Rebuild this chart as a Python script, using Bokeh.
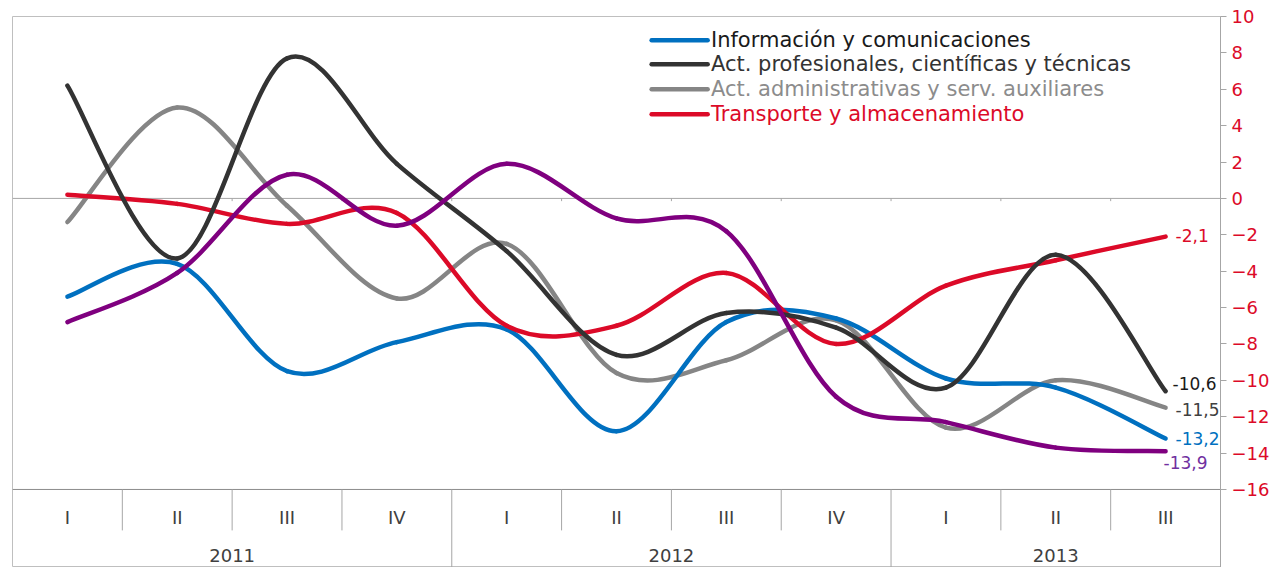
from bokeh.plotting import figure
from bokeh.models import Range1d, FixedTicker, Label
from bokeh.embed import file_html
from bokeh.resources import INLINE
from bokeh.core.properties import value

# ---------------- data ----------------
quarters = ["I", "II", "III", "IV", "I", "II", "III", "IV", "I", "II", "III"]
quarter_year = ["2011", "2011", "2011", "2011", "2012", "2012", "2012", "2012", "2013", "2013", "2013"]
years = ["2011", "2012", "2013"]

info_com = [-5.4, -3.6, -9.5, -7.9, -7.2, -12.8, -6.8, -6.6, -9.9, -10.4, -13.2]
act_prof = [6.2, -3.3, 7.7, 1.9, -2.9, -8.6, -6.3, -7.1, -10.4, -3.1, -10.6]
act_admin = [-1.3, 5.0, -0.4, -5.5, -2.5, -9.6, -8.9, -6.7, -12.6, -10.0, -11.5]
transporte = [0.2, -0.3, -1.4, -0.8, -7.0, -7.0, -4.1, -8.0, -4.8, -3.4, -2.1]
serie5 = [-6.8, -4.1, 1.3, -1.5, 1.9, -1.1, -1.8, -10.9, -12.3, -13.7, -13.9]

series_names = ["Información y comunicaciones",
                "Act. profesionales, científicas y técnicas",
                "Act. administrativas y serv. auxiliares",
                "Transporte y almacenamiento"]

y_ticks = list(range(-16, 11, 2))

# ---------------- styles ----------------
BLUE = "#0070C0"
BLACK = "#333333"
GRAY = "#858585"
RED = "#DC0A28"
PURPLE = "#7F007F"
FONT = "DejaVu Sans"

Y_MIN_DATA = -16
Y_BOTTOM = -20.29

p = figure(frame_width=1208, frame_height=551,
           x_range=Range1d(-0.5, len(quarters) - 0.5),
           y_range=Range1d(Y_BOTTOM, 10),
           x_axis_location=None, y_axis_location="right",
           output_backend="svg", toolbar_location=None,
           min_border_left=12, min_border_top=16, min_border_bottom=0,
           min_border_right=0)
p.grid.visible = False
p.outline_line_color = "#BFBFBF"
p.outline_line_width = 1
p.background_fill_color = "white"
p.border_fill_color = "white"

ax = p.yaxis[0]
ax.ticker = FixedTicker(ticks=y_ticks)
ax.major_label_text_color = RED
ax.major_label_text_font = FONT
ax.major_label_text_font_size = "18px"
ax.axis_line_color = "#A6A6A6"
ax.major_tick_line_color = "#A6A6A6"
ax.major_tick_out = 6
ax.major_tick_in = 0
ax.minor_tick_line_color = None
ax.major_label_standoff = 5

n = len(quarters)
xs = list(range(n))

# zero line and x-axis line
p.segment(x0=[-0.5, -0.5], y0=[0, Y_MIN_DATA], x1=[n - 0.5, n - 0.5], y1=[0, Y_MIN_DATA],
          line_color=["#A6A6A6", "#8C8C8C"], line_width=1)
# small ticks on zero line
bx = [i + 0.5 for i in range(n - 1)]
p.segment(x0=bx, y0=[0] * len(bx), x1=bx, y1=[-0.15] * len(bx), line_color="#A6A6A6", line_width=1)

# category separators
year_bounds = [i + 0.5 for i in range(n - 1) if quarter_year[i] != quarter_year[i + 1]]
q_bounds = [b for b in bx if b not in year_bounds]
p.segment(x0=q_bounds, y0=[Y_MIN_DATA] * len(q_bounds), x1=q_bounds, y1=[-18.25] * len(q_bounds),
          line_color="#A6A6A6", line_width=1)
p.segment(x0=year_bounds, y0=[Y_MIN_DATA] * len(year_bounds), x1=year_bounds,
          y1=[Y_BOTTOM] * len(year_bounds), line_color="#A6A6A6", line_width=1)

# category labels
p.text(x=xs, y=[-17.55] * n, text=quarters, text_align="center", text_baseline="middle",
       text_color="#404040", text_font=value(FONT), text_font_size="18px")
year_x = []
for yname in years:
    idx = [i for i, q in enumerate(quarter_year) if q == yname]
    year_x.append(sum(idx) / len(idx))
p.text(x=year_x, y=[-19.62] * len(years), text=years, text_align="center", text_baseline="middle",
       text_color="#404040", text_font=value(FONT), text_font_size="18px")


def smooth(p, ys, color, width=4.5):
    pts = list(zip(xs, ys))
    x0, y0, x1, y1, cx0, cy0, cx1, cy1 = [], [], [], [], [], [], [], []
    for i in range(len(pts) - 1):
        pm = pts[i - 1] if i > 0 else pts[i]
        p0 = pts[i]
        p1 = pts[i + 1]
        p2 = pts[i + 2] if i + 2 < len(pts) else pts[i + 1]
        x0.append(p0[0]); y0.append(p0[1])
        x1.append(p1[0]); y1.append(p1[1])
        cx0.append(p0[0] + (p1[0] - pm[0]) / 6.0)
        cy0.append(p0[1] + (p1[1] - pm[1]) / 6.0)
        cx1.append(p1[0] - (p2[0] - p0[0]) / 6.0)
        cy1.append(p1[1] - (p2[1] - p0[1]) / 6.0)
    p.bezier(x0=x0, y0=y0, x1=x1, y1=y1, cx0=cx0, cy0=cy0, cx1=cx1, cy1=cy1,
             line_color=color, line_width=width, line_cap="round")


smooth(p, act_admin, GRAY)
smooth(p, info_com, BLUE)
smooth(p, transporte, RED)
smooth(p, act_prof, BLACK)
smooth(p, serie5, PURPLE)


def fmt(v):
    return ("%.1f" % v).replace(".", ",")


last = n - 1
end_specs = [
    (transporte[-1], RED, 10, 1),
    (act_prof[-1], "#1A1A1A", 7, 8),
    (act_admin[-1], "#404040", 10, -2),
    (info_com[-1], BLUE, 10, 0),
    (serie5[-1], "#7030A0", -2, -11),
]
for v, c, dx, dy in end_specs:
    p.add_layout(Label(x=last, y=v, text=fmt(v), x_offset=dx, y_offset=dy, text_align="left",
                       text_baseline="middle", text_color=c, text_font=FONT,
                       text_font_size="17px"))

# legend
leg_colors = [BLUE, BLACK, GRAY, RED]
leg_text_colors = ["#1A1A1A", "#333333", "#8C8C8C", RED]
leg_y = [8.69, 7.37, 6.0, 4.62]
p.segment(x0=[5.32] * 4, y0=leg_y, x1=[5.83] * 4, y1=leg_y, line_color=leg_colors,
          line_width=4.5, line_cap="round")
p.text(x=[5.86] * 4, y=leg_y, text=series_names, text_align="left", text_baseline="middle",
       text_color=leg_text_colors, text_font=value(FONT), text_font_size="21px")

open("out.html", "w").write(file_html(p, INLINE))
